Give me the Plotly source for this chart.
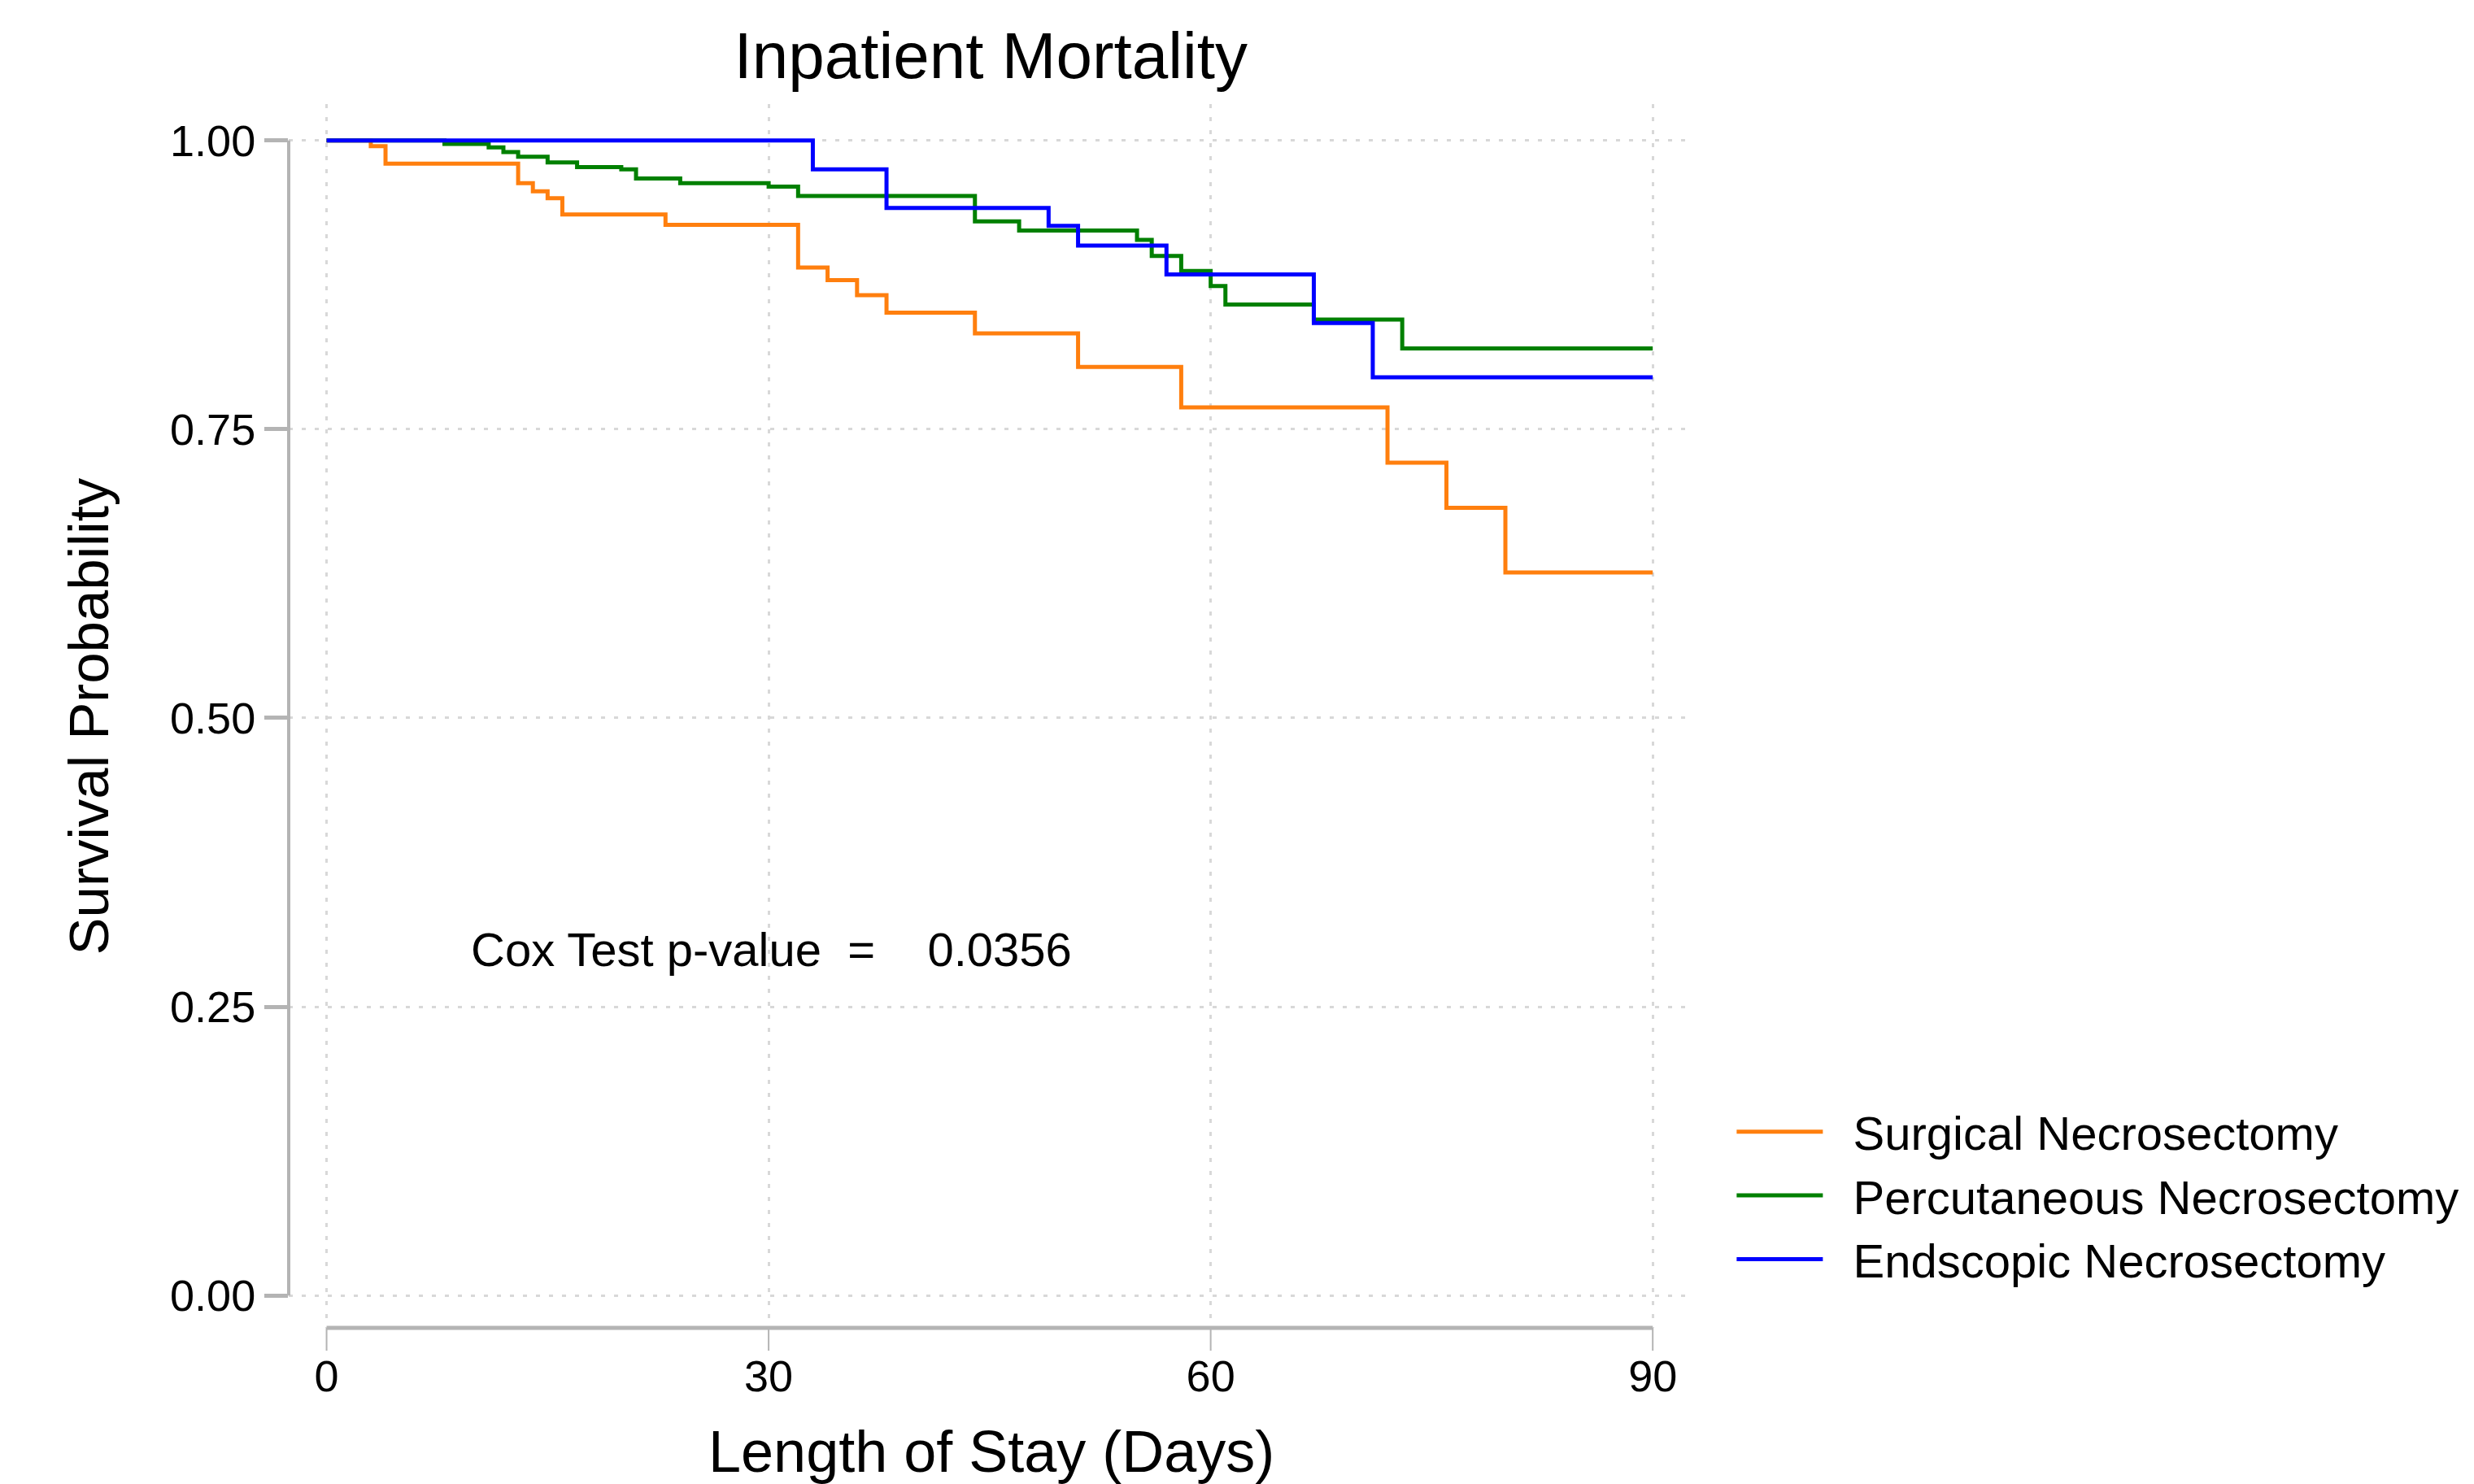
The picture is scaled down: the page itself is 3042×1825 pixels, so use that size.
import plotly.graph_objects as go

# ---- data (Kaplan-Meier step estimates) ----
surg_days = [0, 3, 4, 13, 14, 15, 16, 23, 32, 34, 36, 38, 44, 51, 58, 72, 76, 80, 90]
surg_surv = [1.0, 0.995, 0.980, 0.963, 0.956, 0.950, 0.936, 0.927, 0.890, 0.879, 0.866,
             0.851, 0.833, 0.804, 0.769, 0.721, 0.682, 0.626, 0.626]

perc_days = [0, 8, 11, 12, 13, 15, 17, 20, 21, 24, 30, 32, 44, 47, 55, 56, 58, 60, 61, 67, 73, 90]
perc_surv = [1.0, 0.997, 0.994, 0.990, 0.986, 0.981, 0.977, 0.975, 0.967, 0.963, 0.960,
             0.952, 0.930, 0.922, 0.914, 0.900, 0.887, 0.874, 0.858, 0.845, 0.820, 0.820]

endo_days = [0, 33, 38, 49, 51, 57, 67, 71, 90]
endo_surv = [1.0, 0.975, 0.9415, 0.926, 0.909, 0.884, 0.842, 0.795, 0.795]

series_names = ["Surgical Necrosectomy", "Percutaneous Necrosectomy", "Endscopic Necrosectomy"]
series_colors = ["#ff7f0e", "#008000", "#0000ff"]

x_ticks = [0, 30, 60, 90]
y_ticks = [0.0, 0.25, 0.50, 0.75, 1.00]
y_ticklabels = ["0.00", "0.25", "0.50", "0.75", "1.00"]

title_text = "Inpatient Mortality"
x_title = "Length of Stay (Days)"
y_title = "Survival Probability"
cox_text = "Cox Test p-value  =    0.0356"
cox_pos = (9.7, 0.30)

FONT = "Liberation Sans, Arial, sans-serif"
AXIS_GRAY = "#b4b4b4"
PLOT_H = 1825 - 128 - 192  # plot-area height in px, used for tick-mark length

fig = go.Figure()
for days, surv, name, color in zip([surg_days, perc_days, endo_days],
                                   [surg_surv, perc_surv, endo_surv],
                                   series_names, series_colors):
    fig.add_trace(go.Scatter(x=days, y=surv, mode="lines", name="\u00a0\u00a0" + name,
                             line=dict(color=color, width=5, shape="hv")))

fig.update_layout(
    width=3042, height=1825,
    paper_bgcolor="white", plot_bgcolor="white",
    margin=dict(l=355, r=960, t=128, b=192),
    font=dict(family=FONT, color="black", size=54),
    title=dict(text=title_text, x=0.4005, xanchor="center", y=0.963, yanchor="middle",
               font=dict(size=80, family=FONT, color="black")),
    showlegend=True,
    legend=dict(x=1.028, xanchor="left", y=0.108, yanchor="middle",
                font=dict(size=58, family=FONT, color="black"),
                itemwidth=106, tracegroupgap=0, bgcolor="rgba(0,0,0,0)"),
)

fig.update_xaxes(range=[-2.57, 92.75], tickvals=x_ticks, ticktext=[str(t) for t in x_ticks],
                 showline=False, zeroline=False,
                 ticks="outside", ticklen=12, tickwidth=1, tickcolor="rgba(0,0,0,0)",
                 showgrid=True, gridcolor="#d8d8d8", gridwidth=3, griddash="5px,11px",
                 tickfont=dict(size=54, family=FONT, color="black"))
fig.update_yaxes(range=[-0.028, 1.0315], tickvals=y_ticks, ticktext=y_ticklabels,
                 showline=False, zeroline=False,
                 ticks="outside", ticklen=29, tickwidth=5, tickcolor=AXIS_GRAY,
                 showgrid=True, gridcolor="#d8d8d8", gridwidth=3, griddash="5px,11px",
                 tickfont=dict(size=54, family=FONT, color="black"))

# Stata-style axis lines that span only the labelled range
fig.add_shape(type="line", xref="x", yref="paper", x0=x_ticks[0], x1=x_ticks[-1], y0=0, y1=0,
              line=dict(color=AXIS_GRAY, width=5))
fig.add_shape(type="line", xref="paper", yref="y", x0=0, x1=0, y0=y_ticks[0], y1=y_ticks[-1],
              line=dict(color=AXIS_GRAY, width=4))
# x tick marks (hanging below the axis line)
for t in x_ticks:
    fig.add_shape(type="line", xref="x", yref="paper", x0=t, x1=t, y0=0, y1=-28 / PLOT_H,
                  line=dict(color=AXIS_GRAY, width=2))

fig.add_annotation(text=x_title, xref="paper", yref="paper", x=0.5, y=-0.101,
                   xanchor="center", yanchor="middle", showarrow=False,
                   font=dict(size=72, family=FONT, color="black"))
fig.add_annotation(text=y_title, xref="paper", yref="paper", x=-0.1419, y=0.5,
                   xanchor="center", yanchor="middle", showarrow=False, textangle=-90,
                   font=dict(size=69, family=FONT, color="black"))
fig.add_annotation(text=cox_text, xref="x", yref="y", x=cox_pos[0], y=cox_pos[1],
                   xanchor="left", yanchor="middle", showarrow=False,
                   font=dict(size=58, family=FONT, color="black"))

fig.write_html("out.html", config={"displayModeBar": False},
               post_script="document.body.style.margin='0';document.body.style.overflow='hidden';")
